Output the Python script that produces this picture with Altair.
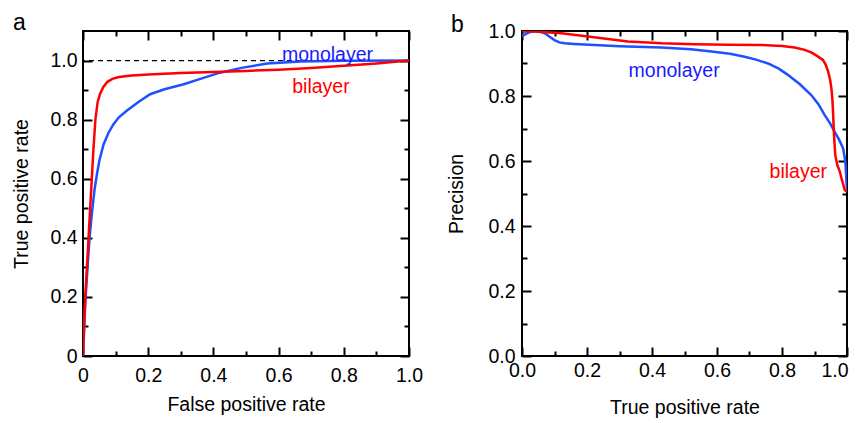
import altair as alt
import pandas as pd

# ---------------- data ----------------
roc_bi_x = [0, 0.003, 0.007, 0.012, 0.017, 0.022, 0.027, 0.032, 0.038, 0.045, 0.052, 0.062,
            0.075, 0.09, 0.11, 0.15, 0.2, 0.3, 0.4, 0.5, 0.6, 0.7, 0.8, 0.9, 1.0]
roc_bi_y = [0, 0.1, 0.2, 0.3, 0.4, 0.5, 0.6, 0.7, 0.8, 0.86, 0.886, 0.91,
            0.928, 0.938, 0.944, 0.949, 0.953, 0.958, 0.961, 0.965, 0.969, 0.975, 0.982, 0.99, 1.0]

roc_mono_x = [0, 0.004, 0.008, 0.014, 0.02, 0.027, 0.035, 0.042, 0.05, 0.063, 0.078, 0.093,
              0.11, 0.134, 0.17, 0.206, 0.25, 0.309, 0.36, 0.42, 0.49, 0.565, 0.667, 0.8, 1.0]
roc_mono_y = [0, 0.1, 0.2, 0.3, 0.4, 0.48, 0.56, 0.61, 0.66, 0.716, 0.755, 0.784,
              0.808, 0.83, 0.86, 0.886, 0.903, 0.92, 0.938, 0.959, 0.976, 0.99, 0.997, 0.999, 1.0]

pr_bi_x = [0, 0.05, 0.121, 0.203, 0.326, 0.431, 0.531, 0.636, 0.736, 0.8, 0.839, 0.87, 0.89,
           0.91, 0.926, 0.935, 0.942, 0.948, 0.952, 0.955, 0.957, 0.96, 0.964, 0.97, 0.977,
           0.983, 0.993, 1.0]
pr_bi_y = [1.0, 0.998, 0.993, 0.983, 0.968, 0.962, 0.959, 0.958, 0.957, 0.954, 0.949, 0.942,
           0.934, 0.922, 0.911, 0.895, 0.875, 0.85, 0.824, 0.79, 0.752, 0.68, 0.618, 0.588,
           0.57, 0.547, 0.511, 0.505]

pr_mono_x = [0, 0.02, 0.039, 0.055, 0.07, 0.085, 0.1, 0.115, 0.131, 0.16, 0.224, 0.3, 0.429,
             0.52, 0.583, 0.64, 0.685, 0.72, 0.757, 0.79, 0.818, 0.855, 0.89, 0.912, 0.931,
             0.948, 0.962, 0.976, 0.988, 0.995, 1.0]
pr_mono_y = [0.985, 0.995, 1.0, 0.998, 0.993, 0.982, 0.972, 0.965, 0.962, 0.96, 0.957, 0.953,
             0.949, 0.944, 0.937, 0.93, 0.921, 0.912, 0.9, 0.884, 0.865, 0.836, 0.803, 0.775,
             0.742, 0.716, 0.69, 0.665, 0.639, 0.598, 0.505]

series_names = ["monolayer", "bilayer"]

# annotation positions (data coords)
roc_label_x = [0.75, 0.73]
roc_label_y = [1.02, 0.91]
pr_label_x = [0.468, 0.85]
pr_label_y = [0.877, 0.566]

major_ticks = [0, 0.2, 0.4, 0.6, 0.8, 1.0]
minor_ticks = [0.1, 0.3, 0.5, 0.7, 0.9]

FONT = "Liberation Sans"
RED = "#ff0000"


def make_df(mx, my, bx, by):
    rows = []
    for i, (x, y) in enumerate(zip(mx, my)):
        rows.append({"x": x, "y": y, "series": "monolayer", "i": i})
    for i, (x, y) in enumerate(zip(bx, by)):
        rows.append({"x": x, "y": y, "series": "bilayer", "i": i})
    return pd.DataFrame(rows)


def panel(df, xdom, ydom, w, h, xtitle, ytitle, line_blue, text_blue, lab_x, lab_y,
          label_expr, xlabpad, ylabpad, xtitpad, ytitpad, letter, letter_dx, letter_off,
          dashed=False, last_label_right=False):
    xs = alt.Scale(domain=xdom, nice=False, zero=False)
    ys = alt.Scale(domain=ydom, nice=False, zero=False)

    color = alt.Color("series:N", scale=alt.Scale(domain=series_names,
                                                  range=[line_blue, RED]), legend=None)

    common = dict(labelFont=FONT, titleFont=FONT, labelFontSize=19.5, titleFontSize=19.5,
                  labelColor="black", titleColor="black", titleFontWeight="normal",
                  ticks=False, domain=False, grid=False, labelExpr=label_expr,
                  values=major_ticks, minExtent=0)

    xextra = {}
    if last_label_right:
        xextra = dict(
            labelAlign={"condition": {"test": "datum.value == 1", "value": "right"},
                        "value": "center"},
            labelOffset={"condition": {"test": "datum.value == 1", "value": 1},
                         "value": 0},
        )

    lines = alt.Chart(df).mark_line(strokeWidth=2.5, clip=True).encode(
        x=alt.X("x:Q", scale=xs, axis=alt.Axis(
            orient="bottom", title=xtitle, labelPadding=xlabpad, titlePadding=xtitpad,
            labelFlush=False, **common, **xextra)),
        y=alt.Y("y:Q", scale=ys, axis=alt.Axis(
            orient="left", title=ytitle, labelPadding=ylabpad, titlePadding=ytitpad,
            **common)),
        color=color,
        order="i:Q",
    )

    def tick_layer(xorient, yorient, vals, size):
        return alt.Chart(df).mark_line(strokeOpacity=0).encode(
            x=alt.X("x:Q", scale=xs, axis=alt.Axis(
                orient=xorient, values=vals, tickSize=size, offset=-size, labels=False,
                domain=False, grid=False, title=None, tickWidth=2, tickColor="black",
                minExtent=0, maxExtent=0)),
            y=alt.Y("y:Q", scale=ys, axis=alt.Axis(
                orient=yorient, values=vals, tickSize=size, offset=-size, labels=False,
                domain=False, grid=False, title=None, tickWidth=2, tickColor="black",
                minExtent=0, maxExtent=0)),
            detail="series:N",
        )

    layers = []
    if dashed:
        rule = alt.Chart(pd.DataFrame({"y": [1.0]})).mark_rule(
            strokeDash=[5, 4], color="black", strokeWidth=1.3).encode(
            y=alt.Y("y:Q", scale=ys, axis=None))
        layers.append(rule)
    layers += [
        lines,
        tick_layer("bottom", "left", major_ticks, 9),
        tick_layer("bottom", "left", minor_ticks, 5),
        tick_layer("top", "right", major_ticks, 9),
        tick_layer("top", "right", minor_ticks, 5),
    ]
    lab_df = pd.DataFrame({"x": lab_x, "y": lab_y, "label": series_names})
    for name, col in zip(series_names, [text_blue, RED]):
        layers.append(
            alt.Chart(lab_df).transform_filter(alt.datum.label == name).mark_text(
                font=FONT, fontSize=19.5, color=col).encode(
                x=alt.X("x:Q", scale=xs, axis=None),
                y=alt.Y("y:Q", scale=ys, axis=None),
                text="label:N")
        )

    return alt.layer(*layers).resolve_axis(x="independent", y="independent").properties(
        width=w, height=h,
        title=alt.TitleParams(letter, anchor="start", frame="group", dx=letter_dx,
                              fontSize=23, font=FONT, fontWeight="normal", offset=letter_off,
                              color="black"),
    )


roc_df = make_df(roc_mono_x, roc_mono_y, roc_bi_x, roc_bi_y)
pr_df = make_df(pr_mono_x, pr_mono_y, pr_bi_x, pr_bi_y)

expr_a = "datum.value == 0 ? '0' : format(datum.value, '.1f')"
expr_b = "format(datum.value, '.1f')"

pa = panel(roc_df, [0, 1], [0, 1.1], 326, 325, "False positive rate", "True positive rate",
           "#1f50ff", "#1a1aff", roc_label_x, roc_label_y, expr_a,
           10, 6, 11, 18, "a", -70, -5, dashed=True)
pb = panel(pr_df, [0, 1], [0, 1], 325, 325, "True positive rate", "Precision",
           "#0000ff", "#1a1aff", pr_label_x, pr_label_y, expr_b,
           5, 7, 19, 21, "b", -71, -16, last_label_right=True)

chart = alt.hconcat(pa, pb, spacing=21).properties(
    padding={"left": 2, "top": 3, "right": 0, "bottom": 0},
    background="white",
).configure_view(stroke="black", strokeWidth=2)

chart.save("out.html", embed_options={"renderer": "svg", "actions": False})
